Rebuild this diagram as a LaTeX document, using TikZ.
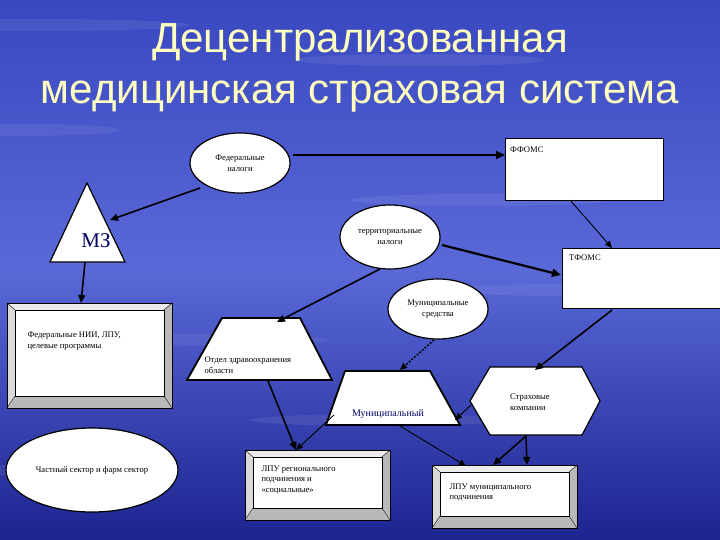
\documentclass[tikz,border=0pt]{standalone}
\usepackage{fontspec}
\setmainfont{Liberation Serif}
\newfontfamily\titlefont{Liberation Sans}
\usetikzlibrary{shapes.geometric,arrows.meta}
\definecolor{ttl}{HTML}{FFFFC0}
\definecolor{bgtop}{HTML}{3A48C0}
\definecolor{bgmid}{HTML}{5A68D8}
\definecolor{bgbot}{HTML}{1C2490}
\tikzset{
 lbl/.style={font=\fontsize{8.6}{10.5}\selectfont,align=left},
 ell/.style={ellipse,draw=black,line width=1.2pt,fill=white},
 whitebox/.style={draw=black,line width=0.6pt,fill=white},
 thickarr/.style={-{Triangle[length=9pt,width=8pt]},line width=2.2pt},
 thinarr/.style={-{Triangle[length=7pt,width=6pt]},line width=0.9pt},
 midarr/.style={-{Triangle[length=8pt,width=7pt]},line width=1.6pt}
}
\newcommand{\bevelbox}[5]{% name x1 y1 x2 y2
 \fill[gray!55] (#2,#3) rectangle (#4,#5);
 \fill[gray!15] (#2,#3) -- (#4,#3) -- ({#4-8},{#3+7}) -- ({#2+8},{#3+7}) -- cycle;
 \fill[gray!30] (#2,#3) -- ({#2+8},{#3+7}) -- ({#2+8},{#5-12}) -- (#2,#5) -- cycle;
 \draw[black,line width=0.5pt] (#2,#3) rectangle (#4,#5);
 \draw[black,line width=0.4pt] (#2,#3)--({#2+8},{#3+7}) (#4,#3)--({#4-8},{#3+7}) (#2,#5)--({#2+8},{#5-12}) (#4,#5)--({#4-8},{#5-12});
 \node[whitebox,anchor=north west,minimum width={(#4-#2-16)*1pt},minimum height={(#5-#3-19)*1pt},inner sep=0pt] (#1) at ({#2+8},{#3+7}) {};
}
\begin{document}
\begin{tikzpicture}[x=1pt,y=-1pt]
\useasboundingbox (0,0) rectangle (720,540);
\shade[top color=bgtop,bottom color=bgbot,middle color=bgmid] (0,0) rectangle (720,540);
\foreach \yy/\ww/\xx in {25/300/40,60/250/420,130/200/20,200/260/480,290/220/560,340/300/180,420/260/380,470/200/60}
  \fill[white,opacity=0.07] (\xx,\yy) ellipse ({\ww/2} and 6);
\node[font=\titlefont\fontsize{42}{51}\selectfont,text=ttl,align=center] (title) at (360,68) {Децентрализованная\\медицинская страховая система};

% nodes
\node[ell,minimum width=100pt,minimum height=60pt,lbl,align=center] (fn) at (240,163) {Федеральные\\налоги};
\node[whitebox,minimum width=158pt,minimum height=62pt] (ff) at (584,169) {};
\node[lbl,anchor=north west] (fftext) at ([xshift=2pt,yshift=-6pt]ff.north west) {ФФОМС};
\draw[fill=white,line width=1.2pt] (87,183) -- (125,262) -- (50,262) -- cycle;
\coordinate (mzt) at (87,183);
\coordinate (mzb) at (85,262);
\coordinate (mzr) at (110,220);
\node[font=\fontsize{21}{22}\selectfont,text=blue!40!black] (mz) at (96,241) {МЗ};
\node[ell,minimum width=100pt,minimum height=64pt,lbl,align=center] (tn) at (390,237) {территориальные\\налоги};
\node[whitebox,minimum width=158pt,minimum height=60pt] (tf) at (641,278) {};
\node[lbl,anchor=north west] (tftext) at ([xshift=4pt,yshift=-4pt]tf.north west) {ТФОМС};
\bevelbox{nii}{7}{303}{172}{408}
\node[lbl,anchor=west] (niit) at (24,341) {Федеральные НИИ, ЛПУ,\\ целевые программы};
\node[ell,minimum width=100pt,minimum height=60pt,lbl,align=center] (ms) at (438,309) {Муниципальные\\средства};
\draw[fill=white,line width=1.8pt] (222,318) -- (300,318) -- (332,380) -- (187,380) -- cycle;
\coordinate (otd) at (261,349);
\node[lbl,anchor=west] (otdt) at (201,365) {Отдел здравоохранения\\области};
\draw[fill=white,line width=1.8pt] (345,371) -- (430,371) -- (460,425) -- (326,425) -- cycle;
\node[font=\fontsize{10}{12}\selectfont,text=blue!40!black] (mun) at (388,414) {Муниципальный};
\draw[fill=white,line width=1.2pt] (470,401) -- (490,367) -- (582,367) -- (600,401) -- (582,435) -- (490,435) -- cycle;
\node[lbl] (skt) at (530,402) {Страховые\\компании};
\node[ell,minimum width=172pt,minimum height=84pt,lbl] (ch) at (92,470) {Частный сектор и фарм сектор};
\bevelbox{lr}{245}{450}{390}{520}
\node[lbl,anchor=north west] (lrt) at (258,462) {ЛПУ регионального\\ подчинения и\\«социальные»};
\bevelbox{lm}{432}{465}{577}{528}
\node[lbl,anchor=north west] (lmt) at (446,480) {ЛПУ муниципального\\ подчинения};

% connectors
\coordinate (a1) at (293,155); \coordinate (a1e) at (505,155);
\draw[thickarr] (a1) -- (a1e);
\coordinate (a2) at (200,188);
\draw[midarr] (a2) -- (mzr);
\coordinate (a3e) at (81,303);
\draw[midarr] (mzb) -- (a3e);
\coordinate (a4) at (570,200); \coordinate (a4e) at (612,248);
\draw[thinarr] (a4) -- (a4e);
\coordinate (a5) at (442,245); \coordinate (a5e) at (561,275);
\draw[thickarr] (a5) -- (a5e);
\coordinate (a6) at (380,269); \coordinate (a6e) at (277,322);
\draw[midarr] (a6) -- (a6e);
\coordinate (a7) at (612,310); \coordinate (a7e) at (535,370);
\draw[midarr] (a7) -- (a7e);
\coordinate (a8) at (434,340); \coordinate (a8e) at (400,370);
\draw[thinarr,dash pattern=on 2pt off 1.5pt,line width=1.4pt] (a8) -- (a8e);
\coordinate (a9) at (268,381); \coordinate (a9e) at (296,450);
\draw[midarr] (a9) -- (a9e);
\coordinate (a10) at (334,415);
\draw[thinarr] (a10) -- (a9e);
\coordinate (a11) at (471,405); \coordinate (a11e) at (455,420);
\draw[thinarr] (a11) -- (a11e);
\coordinate (a12) at (400,426); \coordinate (a12e) at (466,466);
\draw[thinarr] (a12) -- (a12e);
\coordinate (a13) at (526,436); \coordinate (a13e) at (493,465); \coordinate (a14e) at (527,465);
\draw[midarr] (a13) -- (a13e);
\draw[midarr] (a13) -- (a14e);
\end{tikzpicture}
\end{document}
